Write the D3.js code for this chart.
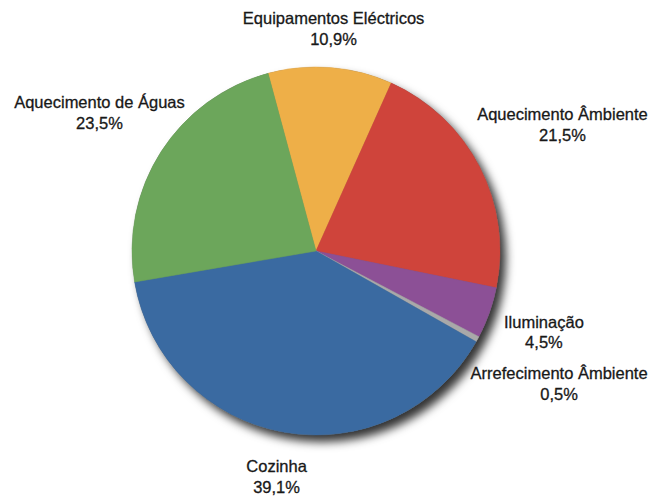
<!DOCTYPE html>
<html>
<head>
<meta charset="utf-8">
<script src="https://cdn.jsdelivr.net/npm/d3@7"></script>
<style>
  html, body { margin: 0; padding: 0; background: #fff; }
  svg text { font-family: "Liberation Sans", Arial, sans-serif; fill: #181818; stroke: #181818; stroke-width: 0.3; }
</style>
</head>
<body>
<svg id="chart" width="648" height="497"></svg>
<script>
// Household energy use by end use (%)
const categories = [
  "Equipamentos Eléctricos",
  "Aquecimento Âmbiente",
  "Iluminação",
  "Arrefecimento Âmbiente",
  "Cozinha",
  "Aquecimento de Águas"
];
const values = [10.9, 21.5, 4.5, 0.5, 39.1, 23.5];
const valueLabels = ["10,9%", "21,5%", "4,5%", "0,5%", "39,1%", "23,5%"];
const colors = ["#eeaf48", "#cf443b", "#8c5096", "#a9a9a9", "#3a6aa1", "#6ca65b"];

// layout
const width = 648, height = 497;
const cx = 316, cy = 251, radius = 184;
const startDeg = -15.1;
// distance from the centre to each label's middle, along the slice's mid-angle
const labelDistance = [223, 277, 242, 277, 229, 257];

const svg = d3.select("#chart");

const defs = svg.append("defs");
const shadow = defs.append("filter")
  .attr("id", "pieShadow")
  .attr("x", "-20%").attr("y", "-20%")
  .attr("width", "140%").attr("height", "140%");
shadow.append("feDropShadow")
  .attr("dx", 6).attr("dy", 7)
  .attr("stdDeviation", 5)
  .attr("flood-color", "#000")
  .attr("flood-opacity", 0.8);

const data = categories.map((c, i) => ({ name: c, value: values[i], label: valueLabels[i], color: colors[i] }));

const start = startDeg * Math.PI / 180;
const pie = d3.pie()
  .value(d => d.value)
  .sort(null)
  .startAngle(start)
  .endAngle(start + 2 * Math.PI);

const arcs = pie(data);
const arc = d3.arc().innerRadius(0).outerRadius(radius);

const g = svg.append("g").attr("transform", `translate(${cx},${cy})`);

// one shadowed disc behind the slices
g.append("circle")
  .attr("r", radius)
  .attr("fill", "#666")
  .attr("filter", "url(#pieShadow)");

g.selectAll("path.slice")
  .data(arcs)
  .join("path")
  .attr("class", "slice")
  .attr("d", arc)
  .attr("fill", d => d.data.color)
  .attr("stroke", d => d.data.color)
  .attr("stroke-width", 0.5);

// labels: name on the first line, share on the second
const labels = g.selectAll("g.label")
  .data(arcs)
  .join("g")
  .attr("class", "label")
  .attr("transform", (d, i) => {
    const a = (d.startAngle + d.endAngle) / 2;
    const r = labelDistance[i];
    return `translate(${Math.sin(a) * r},${-Math.cos(a) * r})`;
  });

labels.append("text")
  .attr("text-anchor", "middle")
  .attr("y", -4.5)
  .attr("font-size", 16.5)
  .text(d => d.data.name);

labels.append("text")
  .attr("text-anchor", "middle")
  .attr("y", 16)
  .attr("font-size", 16.5)
  .text(d => d.data.label);
</script>
</body>
</html>
